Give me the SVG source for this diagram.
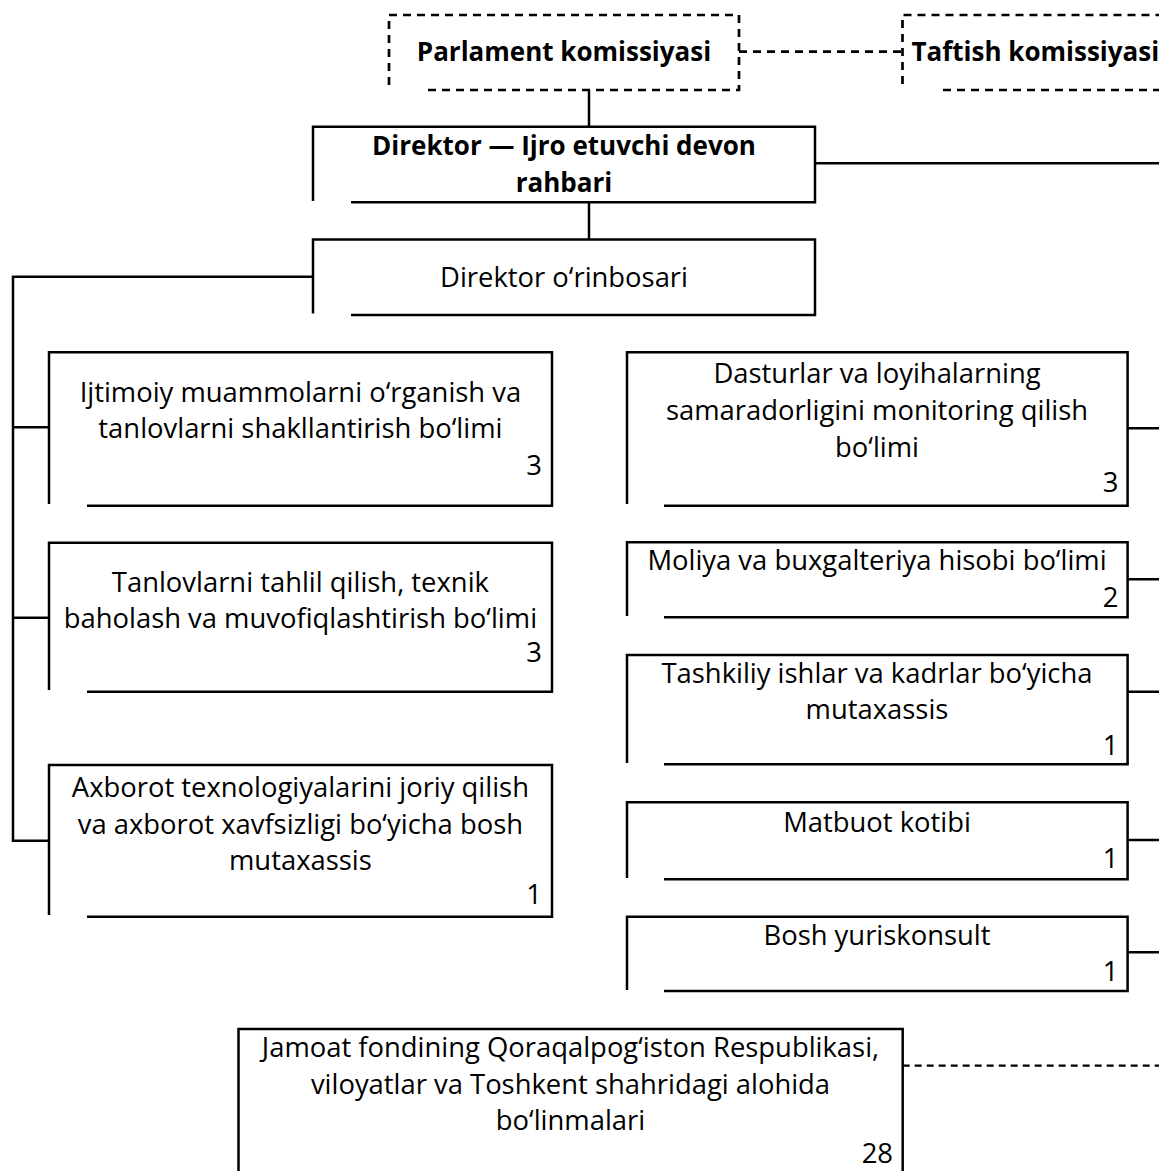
<svg xmlns="http://www.w3.org/2000/svg" width="1159" height="1171" viewBox="0 0 1159 1171">
<style>
.bx{fill:none;stroke:#000;stroke-width:2.5}
.db{fill:none;stroke:#000;stroke-width:2.7;stroke-dasharray:8 6}
.c{fill:none;stroke:#000;stroke-width:2.5}
.dc{fill:none;stroke:#000;stroke-width:2.7;stroke-dasharray:8 6}
.dc2{fill:none;stroke:#000;stroke-width:2.2;stroke-dasharray:7 5}
text{font-family:"Open Sans","Liberation Sans",sans-serif;font-size:27.4px;fill:#000;text-anchor:middle}
.b{font-weight:bold;font-size:26px}
.n{text-anchor:end}
.s{text-anchor:start}
</style>
<rect width="1159" height="1171" fill="#fff"/>
<g id="connectors">
<path class="dc" d="M739,51.7 H902.5"/>
<path class="c" d="M589,90 V126.7 M589,202.3 V239.5"/>
<path class="c" d="M815,163.3 H1162"/>
<path class="c" d="M313,276.7 H13 V840.7 H49 M13,427.3 H49 M13,617.7 H49"/>
<path class="c" d="M1127.6,428.3 H1162 M1127.6,579.3 H1162 M1127.6,691.7 H1162 M1127.6,840 H1162 M1127.6,952.3 H1162"/>
<path class="dc2" d="M902.7,1065.7 H1162"/>
</g>
<g id="parlament">
<path class="db" d="M389,85 V15 H739 V90 H428"/>
<text class="b" x="564" y="61">Parlament komissiyasi</text>
</g>
<g id="taftish">
<path class="db" d="M902.5,84 V15 H1162 M943,90 H1162"/>
<text class="b s" x="911.5" y="61">Taftish komissiyasi</text>
</g>
<g id="direktor">
<path class="bx" d="M313,201 V126.7 H815 V202.3 H351"/>
<text class="b" x="564" y="155">Direktor — Ijro etuvchi devon</text>
<text class="b" x="564" y="192">rahbari</text>
</g>
<g id="orinbosar">
<path class="bx" d="M313,313.5 V239.5 H815 V315 H351"/>
<text x="564" y="287">Direktor o‘rinbosari</text>
</g>
<g id="ijtimoiy">
<path class="bx" d="M49,504 V352.3 H552 V505.7 H87"/>
<text x="300.4" y="401.7">Ijtimoiy muammolarni o‘rganish va</text>
<text x="300.4" y="438.3">tanlovlarni shakllantirish bo‘limi</text>
<text class="n" x="542" y="475">3</text>
</g>
<g id="tanlov">
<path class="bx" d="M49,690 V542.7 H552 V691.7 H87"/>
<text x="300.4" y="591.7">Tanlovlarni tahlil qilish, texnik</text>
<text x="300.4" y="628.3">baholash va muvofiqlashtirish bo‘limi</text>
<text class="n" x="542" y="662">3</text>
</g>
<g id="axborot">
<path class="bx" d="M49,915 V765 H552 V916.7 H87"/>
<text x="300.4" y="797">Axborot texnologiyalarini joriy qilish</text>
<text x="300.4" y="833.5">va axborot xavfsizligi bo‘yicha bosh</text>
<text x="300.4" y="870">mutaxassis</text>
<text class="n" x="542" y="904">1</text>
</g>
<g id="dasturlar">
<path class="bx" d="M627,504 V352.3 H1127.6 V505.7 H664"/>
<text x="877" y="383.3">Dasturlar va loyihalarning</text>
<text x="877" y="420">samaradorligini monitoring qilish</text>
<text x="877" y="456.5">bo‘limi</text>
<text class="n" x="1118.5" y="492">3</text>
</g>
<g id="moliya">
<path class="bx" d="M627,616 V542.3 H1127.6 V617.3 H664"/>
<text x="877" y="570">Moliya va buxgalteriya hisobi bo‘limi</text>
<text class="n" x="1118.5" y="607">2</text>
</g>
<g id="tashkiliy">
<path class="bx" d="M627,763 V655 H1127.6 V764.3 H664"/>
<text x="877" y="682.7">Tashkiliy ishlar va kadrlar bo‘yicha</text>
<text x="877" y="719.3">mutaxassis</text>
<text class="n" x="1118.5" y="755">1</text>
</g>
<g id="matbuot">
<path class="bx" d="M627,878 V802.3 H1127.6 V879.3 H664"/>
<text x="877" y="831.7">Matbuot kotibi</text>
<text class="n" x="1118.5" y="868">1</text>
</g>
<g id="yuriskonsult">
<path class="bx" d="M627,990 V916.7 H1127.6 V991 H664"/>
<text x="877" y="945">Bosh yuriskonsult</text>
<text class="n" x="1118.5" y="981">1</text>
</g>
<g id="jamoat">
<path class="bx" d="M238.5,1175 V1029 H902.7 V1175"/>
<text x="570.5" y="1057">Jamoat fondining Qoraqalpog‘iston Respublikasi,</text>
<text x="570.5" y="1093.5">viloyatlar va Toshkent shahridagi alohida</text>
<text x="570.5" y="1130">bo‘linmalari</text>
<text class="n" x="893" y="1163">28</text>
</g>
</svg>
